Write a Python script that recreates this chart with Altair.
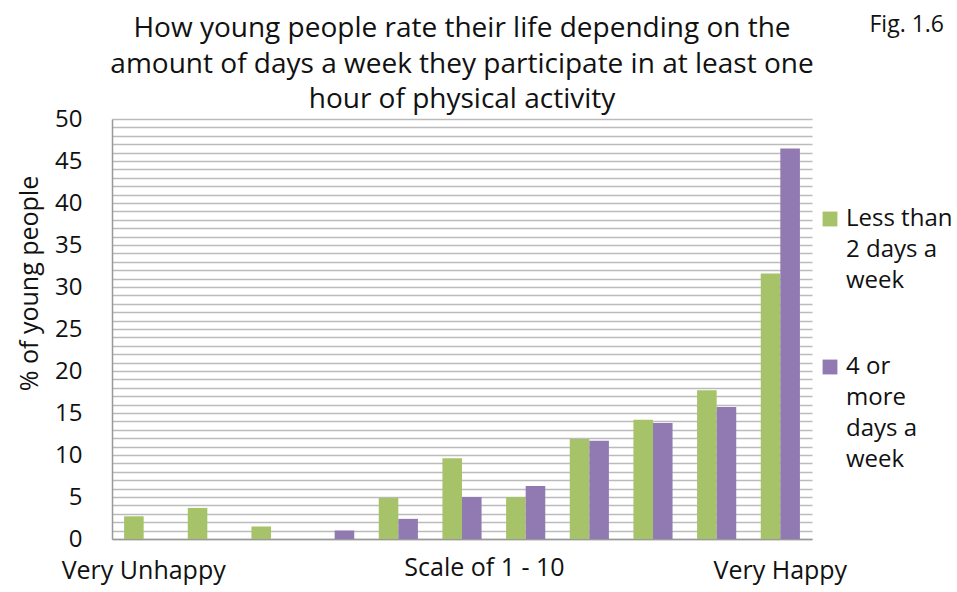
import altair as alt
import pandas as pd

categories = list(range(1, 12))
less_than_2 = [2.7, 3.7, 1.5, 0.0, 4.9, 9.6, 5.0, 11.9, 14.2, 17.7, 31.6]
four_or_more = [0.0, 0.0, 0.0, 1.0, 2.4, 5.0, 6.3, 11.7, 13.8, 15.7, 46.5]
series_names = ["Less than\n2 days a\nweek", "4 or\nmore\ndays a\nweek"]
colors = ["#A6C36A", "#9179B2"]

rows = []
for c, a, b in zip(categories, less_than_2, four_or_more):
    rows.append({"cat": c, "series": series_names[0], "value": a})
    rows.append({"cat": c, "series": series_names[1], "value": b})
df = pd.DataFrame(rows)

FONT = "Open Sans"

bars = alt.Chart(df).mark_bar().encode(
    x=alt.X("cat:O", sort=categories,
            scale=alt.Scale(paddingInner=0.385, paddingOuter=0.19),
            axis=alt.Axis(title="Scale of 1 - 10", labelAngle=0,
                          labelExpr="datum.value == 1 ? 'Very Unhappy' : datum.value == 11 ? 'Very Happy' : ''",
                          ticks=False, domainColor="#999999", domainWidth=1.5,
                          labelFontSize=25, labelPadding=19, labelColor="#111111",
                          titleFontSize=25, titleFontWeight="normal", titleColor="#111111",
                          titleX=372, titleY=28, titleBaseline="middle")),
    xOffset=alt.XOffset("series:N", sort=series_names),
    y=alt.Y("value:Q", scale=alt.Scale(domain=[0, 50], nice=False),
            axis=alt.Axis(title="% of young people", values=list(range(0, 51)),
                          labelExpr="datum.value % 5 == 0 ? datum.label : ''",
                          ticks=False, domainColor="#999999", domainWidth=1.5,
                          gridColor="#BBBBBB", gridWidth=1.5,
                          labelFontSize=24, labelPadding=30, labelColor="#111111",
                          titleFontSize=25, titleFontWeight=500, titleColor="#111111",
                          titleX=-83, titleY=164, titleAngle=-90,
                          titleBaseline="middle", titleAlign="center")),
    color=alt.Color("series:N", sort=series_names,
                    scale=alt.Scale(domain=series_names, range=colors),
                    legend=alt.Legend(title=None, orient="none", legendX=706, legendY=88,
                                      symbolType="square", symbolSize=220,
                                      symbolStrokeWidth=0,
                                      labelFontSize=24, labelLimit=300,
                                      labelExpr="split(datum.label, '\\n')",
                                      labelColor="#111111",
                                      rowPadding=62, labelOffset=4)),
)

fig = alt.Chart(pd.DataFrame({"t": ["Fig. 1.6"]})).mark_text(
    font=FONT, fontSize=23, align="right", baseline="middle", color="#111111"
).encode(text="t:N", x=alt.value(832), y=alt.value(-94))

chart = alt.layer(bars, fig).properties(
    width=700, height=420,
    title=alt.TitleParams(
        text=["How young people rate their life depending on the",
              "amount of days a week they participate in at least one",
              "hour of physical activity"],
        fontSize=28, fontWeight="normal", font=FONT, color="#111111",
        anchor="middle", lineHeight=35.5, offset=8, dy=108),
    autosize=alt.AutoSizeParams(type="none"),
    padding={"left": 112, "top": 119, "right": 145, "bottom": 53},
).configure(font=FONT, style={"guide-label": {"lineHeight": 31}}).configure_view(stroke=None)

chart.save("out.html", embed_options={"renderer": "svg", "actions": False})
